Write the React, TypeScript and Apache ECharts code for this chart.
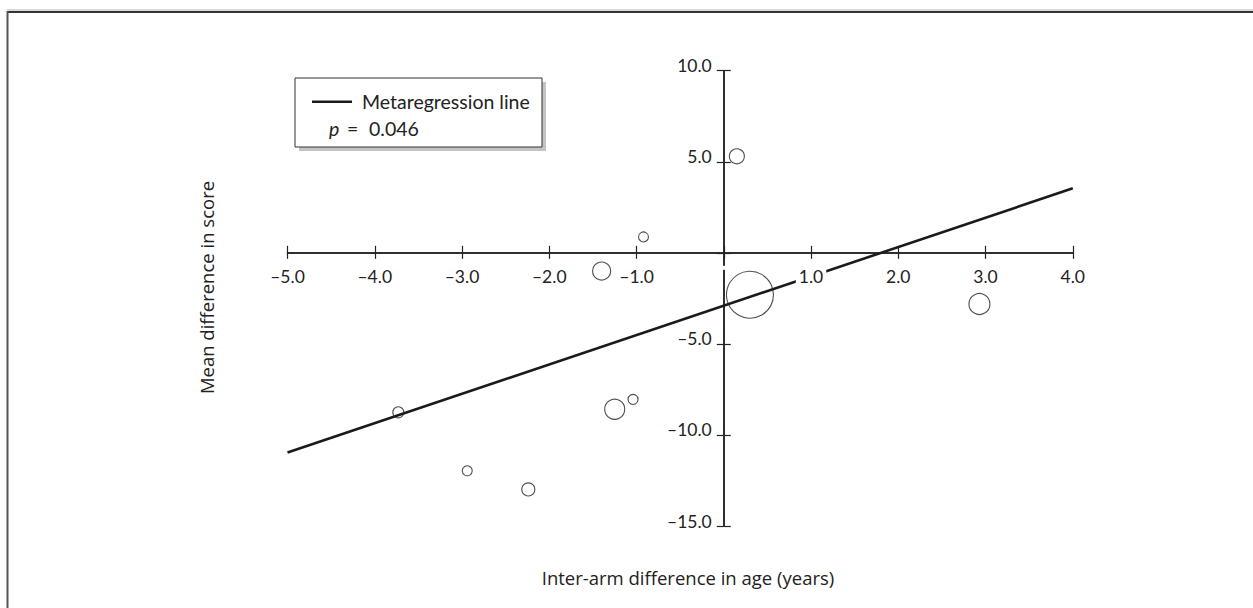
import React, { useEffect, useRef } from "react";
import * as echarts from "echarts";

// Study-level data: inter-arm difference in age vs mean difference in score
const ageDiff = [0.15, -0.92, -1.4, 0.3, 2.93, -3.73, -2.94, -2.24, -1.25, -1.04];
const scoreDiff = [5.3, 0.87, -1.0, -2.3, -2.81, -8.76, -11.97, -12.99, -8.59, -8.05];
// relative study weight (drawn as marker diameter)
const studyWeight = [15, 10, 18, 47, 21, 11, 10, 13, 20, 10];

// Metaregression line end points
const lineX = [-5, 4];
const lineY = [-10.96, 3.54];

const xMin = -5;
const xMax = 4;
const xStep = 1;
const yMin = -15;
const yMax = 10;
const yStep = 5;

const legendName = "Metaregression line";
const pLabel = "p";
const pValue = "0.046";
const xTitle = "Inter-arm difference in age (years)";
const yTitle = "Mean difference in score";

const fmt = (v: number) => (v === 0 ? "" : (v < 0 ? "\u2013" : "") + Math.abs(v).toFixed(1));

export default function App() {
  const ref = useRef<HTMLDivElement>(null);
  useEffect(() => {
    if (!ref.current) return;
    const chart = echarts.init(ref.current, undefined, { renderer: "svg" });
    const axisColor = "#222";
    const tickFont = { fontFamily: "Lato", fontSize: 17.5, color: "#222" };

    const plotLeft = 287.5;
    const plotTop = 70.7;
    const plotW = 785.3;
    const plotH = 455.3;
    // sub-grids whose edges fall on the zero lines, used to place tick labels beside the crossing axes
    const upperH = (plotH * (yMax - 0)) / (yMax - yMin);
    const rightLeft = plotLeft + (plotW * (0 - xMin)) / (xMax - xMin);
    const rightW = (plotW * (xMax - 0)) / (xMax - xMin);

    const lineStyle = { color: axisColor, width: 1.5 };
    const tickStyle = { color: axisColor, width: 1.2 };
    const baseX = { type: "value" as const, min: xMin, max: xMax, interval: xStep, splitLine: { show: false } };
    const baseY = { type: "value" as const, min: yMin, max: yMax, interval: yStep, splitLine: { show: false } };

    const points = ageDiff.map((x, i) => [x, scoreDiff[i], studyWeight[i]]);
    chart.setOption({
      animation: false,
      backgroundColor: "#fff",
      grid: [
        { left: plotLeft, top: plotTop, width: plotW, height: plotH },
        { left: plotLeft, top: plotTop, width: plotW, height: upperH },
        { left: rightLeft, top: plotTop, width: rightW, height: plotH },
      ],
      xAxis: [
        {
          ...baseX, gridIndex: 0, position: "bottom",
          axisLine: { show: true, onZero: true, onZeroAxisIndex: 0, lineStyle },
          axisTick: { show: true, length: 6, lineStyle: tickStyle },
          axisLabel: { show: false },
        },
        {
          ...baseX, gridIndex: 0, position: "top",
          axisLine: { show: true, onZero: true, onZeroAxisIndex: 0, lineStyle },
          axisTick: { show: true, length: 7, lineStyle: tickStyle },
          axisLabel: { show: false },
        },
        {
          ...baseX, gridIndex: 1, position: "bottom", z: 6,
          axisLine: { show: false, onZero: false },
          axisTick: { show: false },
          axisLabel: { ...tickFont, margin: 13, padding: [2, 3, 2, 3], backgroundColor: "#fff", formatter: fmt },
        },
        { type: "value", gridIndex: 2, min: 0, max: xMax, show: false, axisLine: { onZero: false } },
      ],
      yAxis: [
        {
          ...baseY, gridIndex: 0, position: "left",
          axisLine: { show: true, onZero: true, onZeroAxisIndex: 0, lineStyle },
          axisTick: { show: true, length: 7, lineStyle: tickStyle },
          axisLabel: { show: false },
        },
        {
          ...baseY, gridIndex: 0, position: "right",
          axisLine: { show: true, onZero: true, onZeroAxisIndex: 0, lineStyle },
          axisTick: { show: true, length: 7, lineStyle: tickStyle },
          axisLabel: { show: false },
        },
        { type: "value", gridIndex: 1, min: 0, max: yMax, show: false, axisLine: { onZero: false } },
        {
          ...baseY, gridIndex: 2, position: "left",
          axisLine: { show: false, onZero: false },
          axisTick: { show: false },
          axisLabel: { ...tickFont, margin: 12, verticalAlign: "bottom", lineHeight: 10, formatter: fmt },
        },
      ],
      series: [
        {
          type: "line",
          name: legendName,
          xAxisIndex: 0,
          yAxisIndex: 0,
          data: lineX.map((x, i) => [x, lineY[i]]),
          symbol: "none",
          lineStyle: { color: "#1a1a1a", width: 2.6 },
          z: 3,
        },
        {
          type: "scatter",
          xAxisIndex: 0,
          yAxisIndex: 0,
          data: points,
          symbol: "circle",
          symbolSize: (v: number[]) => v[2],
          itemStyle: { color: "rgba(0,0,0,0)", borderColor: "#222", borderWidth: 1.1 },
          z: 4,
        },
      ],
      graphic: [
        // frame
        { type: "line", shape: { x1: 7, y1: 10, x2: 1253, y2: 10 }, style: { stroke: "#b5b5b5", lineWidth: 1 } },
        { type: "line", shape: { x1: 7, y1: 12, x2: 1253, y2: 12 }, style: { stroke: "#333", lineWidth: 2 } },
        { type: "line", shape: { x1: 7.5, y1: 11, x2: 7.5, y2: 608 }, style: { stroke: "#555", lineWidth: 2 } },
        // legend box
        { type: "rect", shape: { x: 299, y: 82, width: 247, height: 69 }, style: { fill: "#c4c4c4" }, z: 10 },
        { type: "rect", shape: { x: 295, y: 78, width: 247, height: 69 }, style: { fill: "#fff", stroke: "#333", lineWidth: 1 }, z: 11 },
        { type: "line", shape: { x1: 312, y1: 101.7, x2: 352, y2: 101.7 }, style: { stroke: "#1a1a1a", lineWidth: 2.6 }, z: 12 },
        {
          type: "text", x: 362, y: 101.7, z: 12,
          style: { text: legendName, fontFamily: "Lato", fontSize: 19.5, fill: "#222", verticalAlign: "middle", align: "left" },
        },
        {
          type: "text", x: 329, y: 128.5, z: 12,
          style: { text: pLabel, fontFamily: "Lato", fontStyle: "italic", fontSize: 19.5, fill: "#222", verticalAlign: "middle", align: "left" },
        },
        {
          type: "text", x: 347, y: 128.5, z: 12,
          style: { text: "=", fontFamily: "Lato", fontSize: 19.5, fill: "#222", verticalAlign: "middle", align: "left" },
        },
        {
          type: "text", x: 369, y: 128.5, z: 12,
          style: { text: pValue, fontFamily: "Lato", fontSize: 19.5, fill: "#222", verticalAlign: "middle", align: "left" },
        },
        // axis titles
        {
          type: "text", x: 688, y: 577,
          style: { text: xTitle, fontFamily: "Open Sans", fontSize: 18.5, fill: "#222", align: "center", verticalAlign: "middle" },
        },
        {
          type: "text", x: 206, y: 287.5, rotation: Math.PI / 2,
          style: { text: yTitle, fontFamily: "Open Sans", fontSize: 18.5, fill: "#222", align: "center", verticalAlign: "middle" },
        },
      ],
    });
    return () => chart.dispose();
  }, []);
  return <div ref={ref} style={{ position: "fixed", left: 0, top: 0, width: 1253, height: 608 }} />;
}
